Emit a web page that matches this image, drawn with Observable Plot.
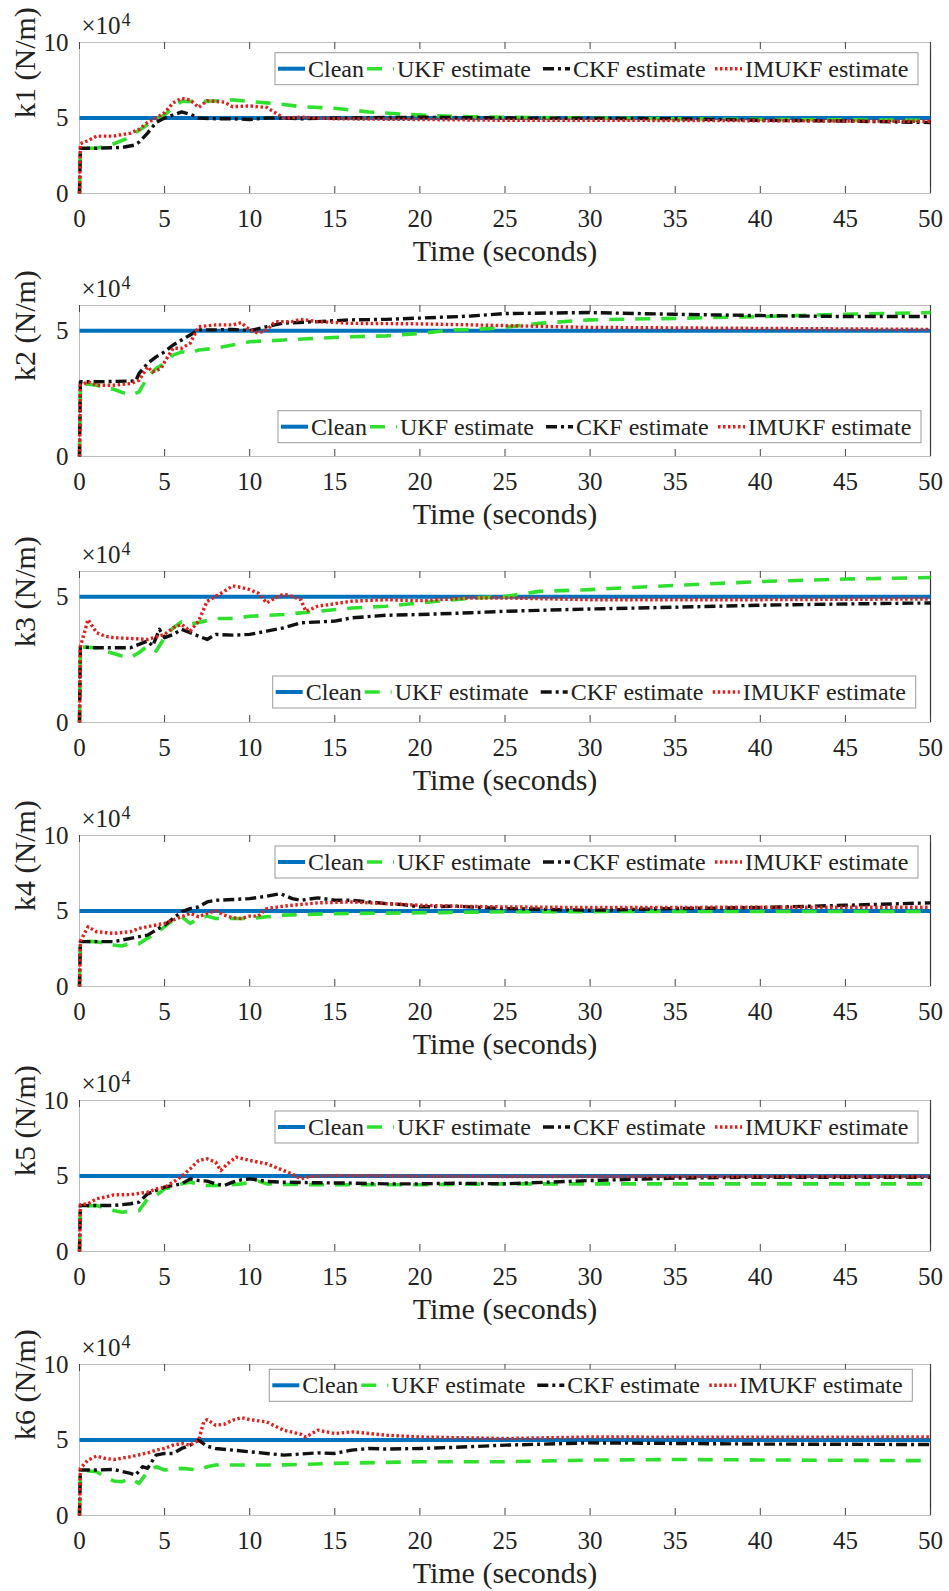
<!DOCTYPE html>
<html>
<head>
<meta charset="utf-8">
<script src="https://cdn.jsdelivr.net/npm/d3@7"></script>
<script src="https://cdn.jsdelivr.net/npm/@observablehq/plot@0.6"></script>
<style>
  html, body { margin: 0; padding: 0; background: #fff; }
  #chart { position: relative; width: 949px; height: 1591px; overflow: hidden; }
  #chart svg { position: absolute; left: 0; overflow: visible; }
  #chart svg text { font-family: "Liberation Serif", "Times New Roman", serif; }
</style>
</head>
<body>
<div id="chart"></div>
<script>
// ---------- data (values in units of 10^4 N/m, time in seconds) ----------
const seriesNames = ["Clean", "UKF estimate", "CKF estimate", "IMUKF estimate"];
const xTicks = [0, 5, 10, 15, 20, 25, 30, 35, 40, 45, 50];
const yTicksFull = [0, 5, 10];
const yTicksShort = [0, 5];
const panelLabels = ["k1 (N/m)", "k2 (N/m)", "k3 (N/m)", "k4 (N/m)", "k5 (N/m)", "k6 (N/m)"];
const yMax = [10, 6, 6, 10, 10, 10];

const clean = [[0, 5], [50, 5]];

const k1_ukf = [[0,0],[0.05,3.0],[1,3.0],[1.8,3.2],[2.7,3.6],[3.6,4.25],[4.3,4.8],[5,5.2],[5.5,5.7],[6,6.1],[7.5,6.1],[9,6.2],[10,6.1],[11,6.0],[12,5.9],[13,5.75],[15,5.65],[17,5.4],[19,5.25],[21,5.15],[23,5.08],[25,5.05],[30,5.0],[40,4.9],[50,4.85]];
const k1_ckf = [[0,0],[0.05,3.0],[1,3.0],[2.5,3.05],[3.2,3.2],[3.5,3.4],[4,4.0],[4.5,4.7],[5,5.0],[5.5,5.2],[6,5.4],[6.5,5.25],[7,5.0],[8,4.95],[9,4.95],[10,4.9],[11,5.0],[12,5.0],[13,4.95],[15,5.0],[20,5.05],[25,5.0],[30,4.98],[35,4.95],[40,4.85],[45,4.8],[50,4.7]];
const k1_imukf = [[0,0],[0.05,3.3],[0.5,3.5],[1,3.8],[2,3.8],[3,4.0],[3.5,4.25],[4,4.7],[4.5,5.0],[5,5.35],[5.5,6.0],[6,6.3],[6.5,6.2],[7,5.7],[7.5,6.15],[8.5,6.05],[9,5.75],[10,5.8],[11,5.7],[11.5,5.35],[12,5.0],[13,5.05],[15,4.95],[20,4.9],[25,4.85],[30,4.85],[40,4.82],[50,4.78]];

const k2_ukf = [[0,0],[0.05,2.9],[1,2.83],[2,2.67],[3,2.43],[3.5,2.57],[4,3.16],[4.5,3.5],[5,3.7],[5.5,4.03],[6,4.16],[6.5,4.1],[7,4.23],[8,4.3],[9,4.43],[10,4.56],[12,4.63],[14,4.7],[16,4.76],[18,4.79],[20,4.89],[22,5.03],[23.3,5.05],[25,5.13],[27,5.29],[30,5.43],[35,5.49],[40,5.56],[45,5.65],[50,5.72]];
const k2_ckf = [[0,0],[0.05,2.97],[1,2.97],[3.3,3.0],[3.5,3.3],[4,3.7],[4.5,3.96],[5,4.16],[5.5,4.43],[6,4.63],[6.5,4.83],[7,5.03],[8,5.03],[9,5.05],[10,5.0],[11,5.16],[12,5.3],[14,5.36],[16,5.43],[18,5.45],[20,5.5],[23,5.58],[25,5.68],[30,5.72],[35,5.65],[40,5.6],[45,5.56],[50,5.56]];
const k2_imukf = [[0,0],[0.05,2.83],[0.5,2.97],[1,2.83],[2,2.83],[3,2.9],[3.5,3.03],[4,3.56],[4.3,3.36],[4.8,3.5],[5,3.76],[5.5,4.3],[6,4.3],[6.5,4.5],[7,5.16],[8,5.23],[9,5.23],[9.5,5.32],[10,5.03],[10.5,4.9],[11,5.03],[11.5,5.36],[12.5,5.36],[13,5.45],[14,5.36],[16,5.29],[20,5.27],[23,5.23],[30,5.13],[40,5.09],[50,5.05]];

const k3_ukf = [[0,0],[0.05,3.0],[1,2.97],[1.8,2.78],[2.5,2.64],[3,2.58],[3.5,2.78],[4,3.04],[4.5,2.84],[5,3.37],[5.5,3.76],[6,4.0],[6.5,3.9],[7.5,4.05],[8,4.13],[9,4.13],[10,4.22],[12,4.29],[14,4.42],[16,4.55],[18,4.62],[20,4.75],[22,4.88],[23.3,4.95],[25,5.01],[27,5.21],[30,5.28],[35,5.45],[40,5.6],[45,5.7],[50,5.76]];
const k3_ckf = [[0,0],[0.05,3.0],[1,2.97],[3,2.97],[4,3.24],[4.3,3.04],[4.7,3.7],[5,3.37],[5.5,3.5],[6,3.7],[6.5,3.57],[7,3.43],[7.5,3.3],[8,3.5],[9,3.47],[10,3.5],[11,3.63],[12,3.76],[13,3.96],[15,4.03],[16,4.16],[18,4.26],[20,4.29],[23,4.36],[25,4.42],[30,4.51],[35,4.58],[40,4.66],[45,4.71],[50,4.75]];
const k3_imukf = [[0,0],[0.05,3.0],[0.5,4.09],[1,3.57],[1.5,3.43],[2,3.37],[3,3.34],[4,3.3],[4.5,3.4],[5,3.5],[5.5,3.76],[6,3.9],[6.5,3.63],[7,4.03],[7.5,4.82],[8,5.01],[8.5,5.21],[9,5.43],[9.5,5.37],[10,5.28],[10.5,5.14],[11,4.75],[11.5,4.95],[12,5.1],[12.5,5.01],[13,4.88],[13.3,4.42],[14,4.62],[16,4.82],[18,4.88],[20,4.84],[23,4.95],[25,4.95],[30,4.88],[40,4.88],[50,4.91]];

const k4_ukf = [[0,0],[0.05,3.0],[1,2.97],[2,2.75],[2.5,2.68],[3,2.86],[3.5,2.84],[4,3.19],[4.5,3.52],[5,3.96],[5.5,4.4],[6,4.62],[6.5,4.18],[7,4.5],[7.5,4.66],[8,4.5],[10,4.5],[11,4.62],[12,4.73],[14,4.79],[16,4.84],[20,4.88],[25,4.95],[35,4.97],[50,4.97]];
const k4_ckf = [[0,0],[0.05,2.97],[2,2.97],[3,3.19],[4,3.4],[4.5,3.74],[5,4.07],[5.5,4.5],[6,4.95],[6.5,5.16],[7,5.27],[7.5,5.6],[8,5.71],[9,5.76],[10,5.82],[11,5.98],[11.8,6.15],[12.5,5.82],[13,5.71],[14,5.87],[15,5.71],[16,5.71],[17,5.6],[18,5.49],[19,5.42],[20,5.27],[22,5.32],[25,5.16],[30,5.05],[35,5.16],[40,5.23],[45,5.38],[50,5.54]];
const k4_imukf = [[0,0],[0.05,3.0],[0.5,3.96],[1,3.63],[2,3.52],[3,3.63],[3.5,3.85],[4,3.96],[5,4.18],[5.5,4.4],[6,4.62],[6.5,4.84],[7,4.62],[7.5,4.84],[8,5.01],[8.5,4.73],[9,4.55],[9.5,4.5],[10,4.66],[10.5,4.66],[11,5.16],[12,5.32],[14,5.54],[16,5.6],[18,5.49],[20,5.38],[22,5.32],[25,5.27],[30,5.23],[40,5.25],[50,5.25]];

const k5_ukf = [[0,0],[0.05,3.0],[1,3.05],[2,2.72],[2.5,2.6],[3,2.67],[3.5,2.7],[4,3.49],[4.5,3.71],[5,4.15],[5.5,4.26],[6,4.48],[6.5,4.59],[7,4.48],[7.5,4.37],[8.5,4.37],[9.5,4.48],[10.5,4.66],[11,4.48],[12,4.44],[15,4.42],[20,4.42],[25,4.48],[30,4.48],[50,4.48]];
const k5_ckf = [[0,0],[0.05,3.05],[2,3.05],[3,3.16],[3.5,3.27],[4,3.82],[4.5,4.04],[5,4.26],[5.5,4.37],[6,4.48],[6.5,4.81],[7,4.7],[7.5,4.66],[8,4.48],[8.5,4.37],[9,4.59],[9.5,4.75],[10,4.81],[11,4.64],[12,4.59],[14,4.55],[16,4.53],[18,4.48],[20,4.48],[22,4.52],[25,4.48],[30,4.7],[35,4.86],[40,4.92],[50,4.92]];
const k5_imukf = [[0,0],[0.05,3.1],[0.5,3.16],[1,3.49],[1.5,3.6],[2,3.75],[3,3.77],[4,3.93],[4.5,4.15],[5,4.26],[5.5,4.59],[6,4.97],[6.5,5.47],[7,6.03],[7.5,6.14],[8,5.92],[8.3,5.36],[8.7,5.81],[9.2,6.25],[10,6.03],[11,5.81],[12,5.36],[12.5,5.14],[13,4.81],[13.5,4.97],[15,5.03],[20,4.99],[25,4.97],[50,4.97]];

const k6_ukf = [[0,0],[0.05,3.0],[1,2.9],[1.5,2.57],[2,2.29],[2.5,2.24],[3,2.46],[3.5,2.13],[4,2.9],[4.5,3.23],[5,3.01],[6,3.12],[7,3.01],[7.5,3.23],[8,3.34],[12,3.35],[15,3.45],[20,3.56],[25,3.56],[30,3.67],[35,3.71],[40,3.68],[50,3.63]];
const k6_ckf = [[0,0],[0.05,3.01],[1,3.01],[2,3.05],[3,2.79],[3.3,2.68],[3.7,3.23],[4,3.12],[4.5,4.0],[5,4.11],[5.5,4.11],[6,4.44],[6.5,4.66],[7,4.99],[7.5,4.59],[8,4.44],[9,4.33],[10,4.22],[11,4.11],[12,4.0],[13,4.07],[14,4.15],[15,4.11],[16,4.33],[17,4.44],[18,4.4],[20,4.44],[22,4.51],[25,4.66],[30,4.81],[35,4.77],[40,4.73],[50,4.7]];
const k6_imukf = [[0,0],[0.05,3.12],[0.5,3.67],[1,3.93],[1.5,3.78],[2,3.71],[3,3.89],[4,4.15],[4.5,4.33],[5,4.44],[5.5,4.66],[6,4.77],[6.5,4.66],[7,4.99],[7.3,6.2],[7.5,6.35],[8,5.98],[8.5,6.04],[9,6.31],[9.5,6.48],[10,6.35],[11,6.2],[11.5,5.91],[12,5.65],[13,5.38],[13.3,5.2],[14,5.65],[15,5.43],[16,5.54],[18,5.32],[20,5.2],[22,5.16],[25,5.1],[30,5.2],[40,5.18],[50,5.2]];

const ukfSeries = [k1_ukf, k2_ukf, k3_ukf, k4_ukf, k5_ukf, k6_ukf];
const ckfSeries = [k1_ckf, k2_ckf, k3_ckf, k4_ckf, k5_ckf, k6_ckf];
const imukfSeries = [k1_imukf, k2_imukf, k3_imukf, k4_imukf, k5_imukf, k6_imukf];

// ---------- styling / layout ----------
const styles = [
  {stroke: "#0072BD", strokeWidth: 4, dash: null},
  {stroke: "#2fe02f", strokeWidth: 3.6, dash: "15,11"},
  {stroke: "#111111", strokeWidth: 3.4, dash: "11,4,3,4"},
  {stroke: "#e0201c", strokeWidth: 3.4, dash: "2.5,2.5"}
];
const svgTops = [0, 263, 528.7, 793, 1058, 1322];
const legendPos = [
  {dx: 196, dy: 10.7}, {dx: 199, dy: 105.7}, {dx: 193.7, dy: 105},
  {dx: 196, dy: 11}, {dx: 196, dy: 11}, {dx: 190.3, dy: 5.3}
];
const legendSampleX = [3, 92, 268, 440];
const FONT = "Liberation Serif";
const INK = "#222";

function legendMark(pos) {
  return (index, scales, values, dims) => {
    const g = d3.create("svg:g")
      .attr("transform", `translate(${dims.marginLeft + pos.dx},${dims.marginTop + pos.dy})`);
    g.append("rect").attr("width", 643).attr("height", 32)
      .attr("fill", "white").attr("stroke", "#9a9a9a").attr("stroke-width", 1);
    seriesNames.forEach((name, i) => {
      const s = styles[i];
      const x0 = legendSampleX[i];
      const ln = g.append("line").attr("x1", x0).attr("x2", x0 + 27)
        .attr("y1", 16).attr("y2", 16)
        .attr("stroke", s.stroke).attr("stroke-width", s.strokeWidth);
      if (s.dash) ln.attr("stroke-dasharray", s.dash);
      g.append("text").attr("x", x0 + 30).attr("y", 16).attr("dy", "0.34em")
        .attr("text-anchor", "start")
        .attr("font-family", FONT).attr("font-size", 24).attr("fill", INK)
        .text(name);
    });
    return g.node();
  };
}

const chart = document.getElementById("chart");
const plotH = 151, mTop = 42, svgH = 264;
const fmt = d => String(d);

panelLabels.forEach((label, p) => {
  const lineOpts = (i) => ({
    x: d => d[0], y: d => d[1],
    stroke: styles[i].stroke, strokeWidth: styles[i].strokeWidth,
    strokeDasharray: styles[i].dash || undefined,
    strokeLinecap: "butt", strokeLinejoin: "round"
  });
  const yTicks = yMax[p] === 10 ? yTicksFull : yTicksShort;
  const txt = {fontFamily: FONT, fill: INK};
  const svg = Plot.plot({
    width: 949, height: svgH,
    marginLeft: 79, marginRight: 19, marginTop: mTop, marginBottom: svgH - mTop - plotH,
    style: {fontFamily: FONT, color: INK, background: "transparent", overflow: "visible"},
    x: {domain: [0, 50], ticks: xTicks, label: null},
    y: {domain: [0, yMax[p]], ticks: yTicks, label: null},
    marks: [
      Plot.frame({stroke: "#bdbdbd", strokeWidth: 1}),
      Plot.ruleX([50], {stroke: "#333", strokeWidth: 1.2}),
      Plot.tickX(xTicks, {x: d => d, insetTop: plotH - 7, stroke: "#444", strokeWidth: 1}),
      Plot.tickX(xTicks, {x: d => d, insetBottom: plotH - 7, stroke: "#444", strokeWidth: 1}),
      Plot.axisX({ticks: xTicks, tickFormat: fmt, tickSize: 0, tickPadding: 16, fontSize: 25, fontFamily: FONT, fill: INK, label: null}),
      Plot.axisY({ticks: yTicks, tickFormat: fmt, tickSize: 0, tickPadding: 11, fontSize: 25, fontFamily: FONT, fill: INK, label: null}),
      Plot.line(clean, lineOpts(0)),
      Plot.line(ukfSeries[p], lineOpts(1)),
      Plot.line(ckfSeries[p], lineOpts(2)),
      Plot.line(imukfSeries[p], lineOpts(3)),
      legendMark(legendPos[p]),
      Plot.text([label], {...txt, text: d => d, frameAnchor: "left", dx: -54, rotate: -90, fontSize: 30}),
      Plot.text(["×10"], {...txt, text: d => d, frameAnchor: "top-left", dx: 2, dy: -9, textAnchor: "start", lineAnchor: "bottom", fontSize: 25}),
      Plot.text(["4"], {...txt, text: d => d, frameAnchor: "top-left", dx: 42, dy: -17, textAnchor: "start", lineAnchor: "bottom", fontSize: 18}),
      Plot.text(["Time (seconds)"], {...txt, text: d => d, frameAnchor: "bottom", dy: 67, lineAnchor: "bottom", fontSize: 30})
    ]
  });
  svg.style.top = svgTops[p] + "px";
  chart.appendChild(svg);
});
</script>
</body>
</html>
